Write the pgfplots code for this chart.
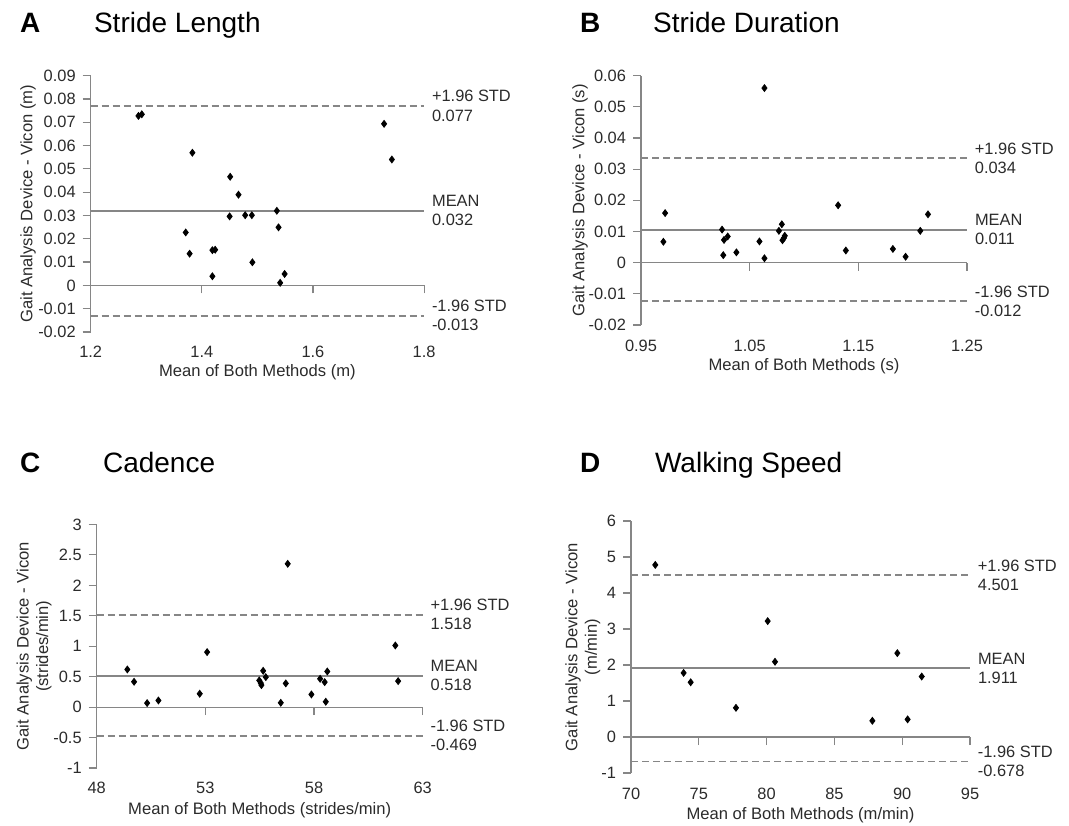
\documentclass[border=0pt]{standalone}
\usepackage{fontspec}
\setmainfont{Liberation Sans}
\usepackage{pgfplots}
\pgfplotsset{compat=1.18}
\definecolor{linegray}{HTML}{868686}
\definecolor{txt}{HTML}{2b2b2b}

\pgfplotsset{
  blandalt/.style={
    scale only axis,
    clip=false,
    axis y line=left,
    axis x line=middle,
    axis line style={-, draw=linegray, line width=0.6pt},
    every tick/.style={draw=linegray, line width=0.6pt},
    tick align=outside,
    major tick length=4pt,
    scaled ticks=false,
    hide obscured x ticks=false,
    hide obscured y ticks=false,
    ticklabel style={font=\fontsize{8.2}{9.6}\selectfont, text=txt},
    label style={font=\fontsize{8.3}{9.8}\selectfont, text=txt, align=center},
    xticklabel style={anchor=center},
    ylabel style={anchor=center},
    xlabel style={anchor=center},
  },
  pts/.style={only marks, mark=diamond*, mark size=1.7pt, black},
  meanline/.style={no marks, draw=linegray, line width=1pt},
  sdline/.style={no marks, draw=linegray, line width=0.9pt, dash pattern=on 3.5pt off 2pt},
}
\newcommand{\rlab}[2]{node[anchor=west, align=left, inner sep=0pt, xshift=3.5pt,
  font=\fontsize{8.2}{9.6}\selectfont, text=txt] {#1\\#2}}

\begin{document}
\begin{tikzpicture}[x=1pt,y=1pt]
\useasboundingbox (0,0) rectangle (534.5,412.5);

% titles
\node[anchor=base west, font=\fontsize{14}{16}\selectfont\bfseries] at (6.5,396) {A};
\node[anchor=base west, font=\fontsize{14}{16}\selectfont] at (43.5,396) {Stride Length};
\node[anchor=base west, font=\fontsize{14}{16}\selectfont\bfseries] at (286.5,396) {B};
\node[anchor=base west, font=\fontsize{14}{16}\selectfont] at (323,396) {Stride Duration};
\node[anchor=base west, font=\fontsize{14}{16}\selectfont\bfseries] at (6.5,176) {C};
\node[anchor=base west, font=\fontsize{14}{16}\selectfont] at (48,176) {Cadence};
\node[anchor=base west, font=\fontsize{14}{16}\selectfont\bfseries] at (286.5,176) {D};
\node[anchor=base west, font=\fontsize{14}{16}\selectfont] at (324,176) {Walking Speed};

% A: stride length
\begin{axis}[blandalt,
  at={(45.35pt,246.5pt)}, anchor=south west,
  width=166.7pt, height=128.2pt,
  xmin=1.2, xmax=1.8, ymin=-0.02, ymax=0.09,
  xtick={1.2,1.4,1.6,1.8}, xticklabels={1.2,1.4,1.6,1.8},
  ytick={-0.02,-0.01,0,0.01,0.02,0.03,0.04,0.05,0.06,0.07,0.08,0.09},
  yticklabels={-0.02,-0.01,0,0.01,0.02,0.03,0.04,0.05,0.06,0.07,0.08,0.09},
  xticklabel style={yshift=-29.2pt},
  xlabel={Mean of Both Methods (m)},
  xlabel style={at={(axis description cs:0.5,-0.156)}},
  ylabel={Gait Analysis Device - Vicon (m)},
  ylabel style={at={(axis description cs:-0.188,0.5)}},
]
\addplot[meanline] coordinates {(1.2,0.032) (1.8,0.032)} \rlab{MEAN}{0.032};
\addplot[sdline] coordinates {(1.2,0.077) (1.8,0.077)} \rlab{+1.96 STD}{0.077};
\addplot[sdline] coordinates {(1.2,-0.013) (1.8,-0.013)} \rlab{-1.96 STD}{-0.013};
\addplot[pts] coordinates {
(1.286,0.0727) (1.292,0.0734) (1.383,0.0569) (1.371,0.0227) (1.378,0.0136)
(1.419,0.0151) (1.424,0.0153) (1.419,0.0039) (1.451,0.0466) (1.450,0.0296)
(1.466,0.0389) (1.478,0.0301) (1.490,0.0301) (1.491,0.0099) (1.535,0.0320)
(1.538,0.0249) (1.549,0.0049) (1.541,0.0011) (1.728,0.0693) (1.742,0.0540)};
\end{axis}

% B: stride duration
\begin{axis}[blandalt,
  at={(320.5pt,250pt)}, anchor=south west,
  width=163pt, height=124.7pt,
  xmin=0.95, xmax=1.25, ymin=-0.02, ymax=0.06,
  xtick={0.95,1.05,1.15,1.25}, xticklabels={0.95,1.05,1.15,1.25},
  ytick={-0.02,-0.01,0,0.01,0.02,0.03,0.04,0.05,0.06},
  yticklabels={-0.02,-0.01,0,0.01,0.02,0.03,0.04,0.05,0.06},
  xticklabel style={yshift=-37.7pt},
  xlabel={Mean of Both Methods (s)},
  xlabel style={at={(axis description cs:0.5,-0.167)}},
  ylabel={Gait Analysis Device - Vicon (s)},
  ylabel style={at={(axis description cs:-0.187,0.5)}},
]
\addplot[meanline] coordinates {(0.95,0.0106) (1.25,0.0106)} \rlab{MEAN}{0.011};
\addplot[sdline] coordinates {(0.95,0.0335) (1.25,0.0335)} \rlab{+1.96 STD}{0.034};
\addplot[sdline] coordinates {(0.95,-0.0124) (1.25,-0.0124)} \rlab{-1.96 STD}{-0.012};
\addplot[pts] coordinates {
(0.9706,0.0067) (0.9722,0.0159) (1.0246,0.0106) (1.0264,0.0073) (1.0298,0.0084)
(1.0257,0.0024) (1.0378,0.0033) (1.0590,0.0068) (1.0636,0.0014) (1.0636,0.0560)
(1.0769,0.0102) (1.0796,0.0123) (1.0802,0.0072) (1.0815,0.0079) (1.0823,0.0086)
(1.1314,0.0184) (1.1385,0.0039) (1.1818,0.0044) (1.1935,0.0019) (1.2070,0.0102)
(1.2141,0.0155)};
\end{axis}

% C: cadence
\begin{axis}[blandalt,
  at={(48.35pt,28.5pt)}, anchor=south west,
  width=163pt, height=121.8pt,
  xmin=48, xmax=63, ymin=-1, ymax=3,
  xtick={48,53,58,63}, xticklabels={48,53,58,63},
  ytick={-1,-0.5,0,0.5,1,1.5,2,2.5,3},
  yticklabels={-1,-0.5,0,0.5,1,1.5,2,2.5,3},
  xticklabel style={yshift=-36.2pt},
  xlabel={Mean of Both Methods (strides/min)},
  xlabel style={at={(axis description cs:0.5,-0.174)}},
  ylabel={Gait Analysis Device - Vicon\\(strides/min)},
  ylabel style={at={(axis description cs:-0.192,0.5)}},
]
\addplot[meanline] coordinates {(48,0.518) (63,0.518)} \rlab{MEAN}{0.518};
\addplot[sdline] coordinates {(48,1.518) (63,1.518)} \rlab{+1.96 STD}{1.518};
\addplot[sdline] coordinates {(48,-0.469) (63,-0.469)} \rlab{-1.96 STD}{-0.469};
\addplot[pts] coordinates {
(49.41,0.618) (49.72,0.416) (50.32,0.066) (50.84,0.109) (52.74,0.219)
(53.08,0.903) (55.48,0.438) (55.55,0.394) (55.58,0.361) (55.66,0.596)
(55.78,0.492) (56.47,0.071) (56.70,0.389) (56.79,2.353) (57.88,0.208)
(58.28,0.465) (58.49,0.410) (58.54,0.088) (58.61,0.585) (61.74,1.012)
(61.87,0.427)};
\end{axis}

% D: walking speed
\begin{axis}[blandalt,
  at={(315.5pt,26pt)}, anchor=south west,
  width=169.5pt, height=126pt,
  xmin=70, xmax=95, ymin=-1, ymax=6,
  xtick={70,75,80,85,90,95}, xticklabels={70,75,80,85,90,95},
  ytick={-1,0,1,2,3,4,5,6}, yticklabels={-1,0,1,2,3,4,5,6},
  xticklabel style={yshift=-24.4pt},
  xlabel={Mean of Both Methods (m/min)},
  xlabel style={at={(axis description cs:0.5,-0.167)}},
  ylabel={Gait Analysis Device - Vicon\\(m/min)},
  ylabel style={at={(axis description cs:-0.142,0.5)}},
]
\addplot[meanline] coordinates {(70,1.911) (95,1.911)} \rlab{MEAN}{1.911};
\addplot[sdline] coordinates {(70,4.501) (95,4.501)} \rlab{+1.96 STD}{4.501};
\addplot[sdline] coordinates {(70,-0.678) (95,-0.678)} \rlab{-1.96 STD}{-0.678};
\addplot[pts] coordinates {
(71.79,4.78) (73.88,1.78) (74.40,1.52) (77.74,0.81) (80.08,3.22)
(80.62,2.09) (87.80,0.45) (89.64,2.33) (90.40,0.49) (91.44,1.68)};
\end{axis}
\end{tikzpicture}
\end{document}
